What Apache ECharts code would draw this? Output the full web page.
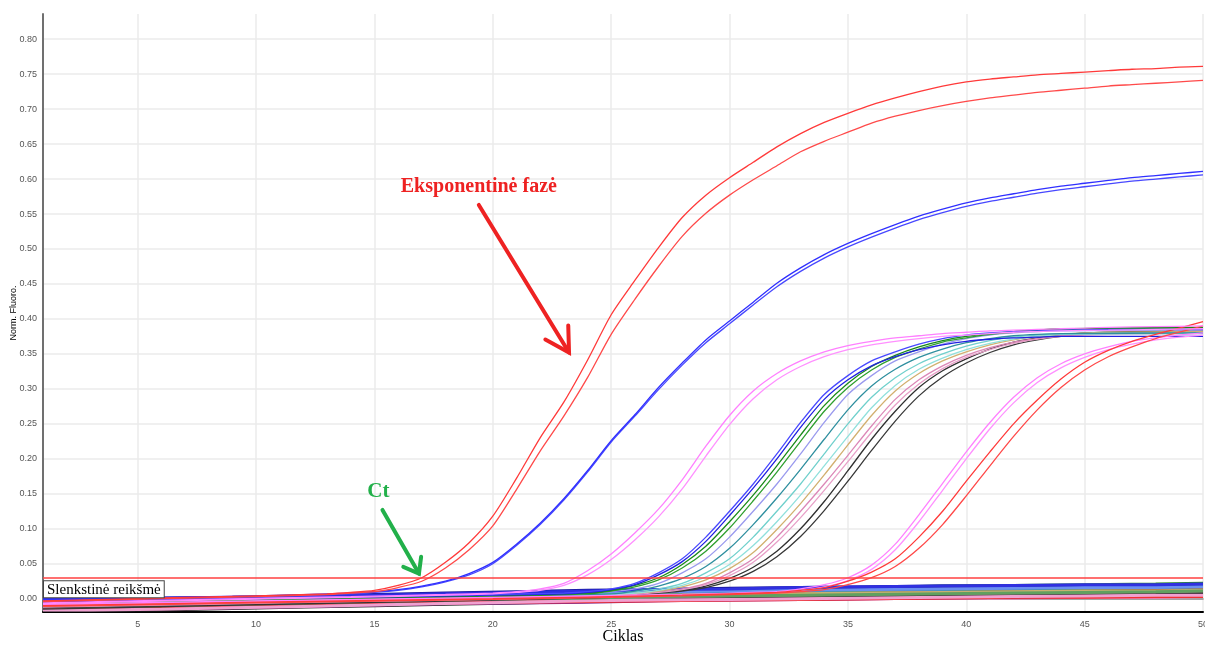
<!DOCTYPE html>
<html><head><meta charset="utf-8">
<script src="https://cdn.jsdelivr.net/npm/echarts@6/dist/echarts.min.js"></script>
<style>html,body{margin:0;padding:0;background:#fff}#c{width:1205px;height:645px}</style>
</head><body><div id="c"></div>
<script>
// ---- axis ticks ----
const xTicks = [5,10,15,20,25,30,35,40,45,50];
const yTicks = [0,0.05,0.10,0.15,0.20,0.25,0.30,0.35,0.40,0.45,0.50,0.55,0.60,0.65,0.70,0.75,0.80];
const threshold = 0.027;

// ---- flat (non-amplified) baseline wells, sampled at baseCycles ----
const baseCycles = [1,3,6,9,12,15,18,21,24,27,30,33,36,39,42,45,48,50];
const b1  = [-0.004,-0.003,-0.002,0.000,0.002,0.004,0.006,0.008,0.010,0.012,0.014,0.016,0.018,0.019,0.020,0.021,0.022,0.022];
const b2  = [-0.008,-0.007,-0.005,-0.003,-0.001,0.001,0.003,0.004,0.006,0.007,0.008,0.009,0.010,0.011,0.012,0.013,0.014,0.014];
const b3  = [-0.006,-0.005,-0.004,-0.002,0.000,0.002,0.003,0.005,0.006,0.008,0.009,0.010,0.011,0.012,0.013,0.013,0.014,0.014];
const b4  = [-0.012,-0.011,-0.010,-0.008,-0.006,-0.005,-0.003,-0.002,0.000,0.001,0.002,0.003,0.004,0.005,0.006,0.006,0.007,0.007];
const b5  = [0.000,0.001,0.002,0.004,0.006,0.008,0.010,0.012,0.013,0.015,0.016,0.017,0.018,0.018,0.019,0.019,0.020,0.020];
const b6  = [-0.014,-0.013,-0.011,-0.009,-0.007,-0.005,-0.004,-0.002,-0.001,0.000,0.001,0.002,0.003,0.004,0.004,0.005,0.005,0.005];
const b7  = [-0.010,-0.011,-0.012,-0.010,-0.008,-0.006,-0.005,-0.004,-0.003,-0.002,-0.001,0.000,0.001,0.001,0.002,0.002,0.003,0.003];
const b8  = [-0.003,-0.004,-0.002,-0.001,0.001,0.003,0.005,0.006,0.008,0.009,0.010,0.011,0.012,0.013,0.014,0.015,0.015,0.015];
const b9  = [-0.009,-0.008,-0.006,-0.004,-0.002,0.000,0.002,0.003,0.005,0.006,0.007,0.008,0.009,0.010,0.011,0.012,0.012,0.012];
const b10 = [-0.005,-0.006,-0.004,-0.002,0.000,0.002,0.004,0.006,0.008,0.010,0.011,0.012,0.013,0.014,0.015,0.016,0.017,0.017];
const b11 = [-0.017,-0.016,-0.014,-0.012,-0.010,-0.008,-0.006,-0.004,-0.002,0.000,0.001,0.002,0.003,0.004,0.005,0.006,0.007,0.007];
const b12 = [-0.015,-0.014,-0.013,-0.011,-0.009,-0.007,-0.006,-0.005,-0.003,-0.002,-0.001,0.000,0.001,0.002,0.003,0.004,0.004,0.004];
const b13 = [-0.002,-0.001,0.000,0.002,0.004,0.005,0.007,0.008,0.010,0.011,0.012,0.013,0.014,0.015,0.016,0.016,0.017,0.017];
const b14 = [-0.013,-0.012,-0.010,-0.009,-0.008,-0.006,-0.005,-0.004,-0.003,-0.002,-0.001,0.000,0.001,0.002,0.002,0.003,0.003,0.003];
const b15 = [-0.007,-0.006,-0.005,-0.003,-0.001,0.001,0.002,0.004,0.005,0.006,0.007,0.008,0.009,0.010,0.011,0.011,0.012,0.012];
const b16 = [-0.001,0.000,0.001,0.003,0.005,0.007,0.009,0.011,0.013,0.014,0.016,0.017,0.018,0.019,0.020,0.020,0.021,0.021];
const b17 = [-0.016,-0.015,-0.013,-0.011,-0.009,-0.007,-0.005,-0.003,-0.002,-0.001,0.000,0.001,0.002,0.003,0.004,0.005,0.005,0.006];
const b18 = [-0.011,-0.010,-0.008,-0.006,-0.004,-0.002,0.000,0.001,0.003,0.004,0.005,0.006,0.007,0.008,0.009,0.010,0.011,0.011];
const baseColors = ['#2e8b2e','#8b8b00','#b8860b','#d0409a','#1a1a9a','#909090','#ff6eb4','#d2691e','#a0522d','#2f8f8f','#202020','#8a2a8a','#6a8ff0','#f03030','#c8b070','#3030e0','#f0a0d0','#60a060'];
const baseWells = [b1,b2,b3,b4,b5,b6,b7,b8,b9,b10,b11,b12,b13,b14,b15,b16,b17,b18];

// ---- amplification curves [cycle, Norm. Fluoro.] ----
const R1 = [[1,-0.003],[6,0.001],[10,0.004],[13,0.007],[14,0.009],[15,0.012],[16,0.019],[17,0.030],[18,0.052],[19,0.080],[20,0.118],[21,0.172],[22,0.230],[23,0.281],[24,0.341],[25,0.406],[26,0.455],[27,0.502],[28,0.545],[29,0.577],[30,0.602],[31,0.624],[32,0.646],[33,0.665],[34,0.681],[35,0.694],[36,0.706],[37,0.716],[38,0.725],[39,0.733],[40,0.739],[41,0.743],[42,0.746],[43,0.749],[44,0.751],[45,0.753],[46,0.755],[47,0.757],[48,0.758],[49,0.760],[50,0.761]];
const R2 = [[1,-0.004],[6,0.000],[10,0.003],[13,0.006],[14,0.008],[15,0.010],[16,0.016],[17,0.025],[18,0.044],[19,0.070],[20,0.104],[21,0.156],[22,0.211],[23,0.261],[24,0.316],[25,0.378],[26,0.428],[27,0.475],[28,0.518],[29,0.551],[30,0.577],[31,0.599],[32,0.619],[33,0.639],[34,0.654],[35,0.667],[36,0.680],[37,0.690],[38,0.698],[39,0.705],[40,0.711],[41,0.716],[42,0.720],[43,0.724],[44,0.727],[45,0.730],[46,0.733],[47,0.735],[48,0.737],[49,0.739],[50,0.741]];
const B1 = [[1,-0.001],[6,0.002],[10,0.004],[14,0.008],[15,0.010],[16,0.013],[17,0.018],[18,0.025],[19,0.036],[20,0.052],[21,0.078],[22,0.108],[23,0.143],[24,0.183],[25,0.226],[26,0.263],[27,0.302],[28,0.337],[29,0.370],[30,0.397],[31,0.424],[32,0.451],[33,0.473],[34,0.492],[35,0.508],[36,0.522],[37,0.535],[38,0.547],[39,0.557],[40,0.566],[41,0.573],[42,0.579],[43,0.585],[44,0.590],[45,0.594],[46,0.598],[47,0.602],[48,0.605],[49,0.608],[50,0.611]];
const B2 = [[1,-0.002],[6,0.001],[10,0.003],[14,0.007],[15,0.009],[16,0.012],[17,0.017],[18,0.024],[19,0.034],[20,0.050],[21,0.076],[22,0.106],[23,0.141],[24,0.181],[25,0.224],[26,0.261],[27,0.299],[28,0.334],[29,0.366],[30,0.393],[31,0.420],[32,0.446],[33,0.468],[34,0.487],[35,0.503],[36,0.517],[37,0.530],[38,0.542],[39,0.552],[40,0.561],[41,0.568],[42,0.574],[43,0.580],[44,0.585],[45,0.589],[46,0.593],[47,0.597],[48,0.600],[49,0.603],[50,0.606]];
const P1 = [[1,-0.006],[8,-0.001],[14,0.003],[18,0.006],[20,0.008],[21,0.010],[22,0.014],[23,0.022],[24,0.040],[25,0.064],[26,0.094],[27,0.128],[28,0.170],[29,0.218],[30,0.262],[31,0.297],[32,0.322],[33,0.340],[34,0.353],[35,0.362],[36,0.368],[37,0.373],[38,0.376],[39,0.379],[40,0.381],[41,0.383],[42,0.384],[43,0.385],[44,0.386],[45,0.387],[46,0.388],[48,0.389],[50,0.390]];
const P2 = [[1,-0.007],[8,-0.002],[14,0.002],[18,0.005],[20,0.007],[21,0.009],[22,0.012],[23,0.019],[24,0.034],[25,0.056],[26,0.084],[27,0.117],[28,0.157],[29,0.204],[30,0.249],[31,0.286],[32,0.313],[33,0.332],[34,0.346],[35,0.356],[36,0.363],[37,0.368],[38,0.372],[39,0.375],[40,0.377],[41,0.379],[42,0.381],[43,0.382],[44,0.383],[46,0.384],[48,0.385],[50,0.386]];
const Bc1 = [[1,-0.003],[8,0.000],[14,0.003],[20,0.006],[23,0.008],[24,0.010],[25,0.014],[26,0.022],[27,0.037],[28,0.057],[29,0.088],[30,0.125],[31,0.164],[32,0.207],[33,0.252],[34,0.292],[35,0.319],[36,0.340],[37,0.353],[38,0.364],[39,0.372],[40,0.377],[41,0.380],[42,0.382],[43,0.383],[44,0.384],[46,0.385],[50,0.385]];
const Bc2 = [[1,-0.005],[8,-0.001],[14,0.002],[20,0.005],[23,0.007],[24,0.009],[25,0.013],[26,0.020],[27,0.034],[28,0.053],[29,0.082],[30,0.119],[31,0.158],[32,0.200],[33,0.245],[34,0.285],[35,0.313],[36,0.333],[37,0.346],[38,0.356],[39,0.363],[40,0.368],[41,0.371],[42,0.373],[43,0.374],[44,0.375],[50,0.375]];
const G1 = [[1,-0.006],[8,-0.002],[14,0.001],[20,0.004],[24,0.008],[25,0.012],[26,0.019],[27,0.030],[28,0.049],[29,0.075],[30,0.110],[31,0.148],[32,0.190],[33,0.234],[34,0.276],[35,0.308],[36,0.332],[37,0.348],[38,0.360],[39,0.369],[40,0.375],[41,0.379],[42,0.382],[43,0.384],[44,0.386],[46,0.387],[50,0.388]];
const G2 = [[1,-0.007],[8,-0.003],[14,0.000],[20,0.003],[24,0.007],[25,0.011],[26,0.017],[27,0.027],[28,0.044],[29,0.068],[30,0.101],[31,0.140],[32,0.181],[33,0.225],[34,0.268],[35,0.302],[36,0.327],[37,0.345],[38,0.357],[39,0.367],[40,0.373],[41,0.378],[42,0.381],[43,0.383],[44,0.385],[46,0.386],[50,0.387]];
const Lv = [[1,-0.004],[8,-0.001],[14,0.002],[20,0.005],[24,0.008],[25,0.010],[26,0.014],[27,0.022],[28,0.037],[29,0.057],[30,0.088],[31,0.125],[32,0.164],[33,0.207],[34,0.252],[35,0.292],[36,0.319],[37,0.340],[38,0.353],[39,0.364],[40,0.372],[41,0.377],[42,0.380],[43,0.382],[44,0.383],[50,0.384]];
const Tl = [[1,-0.008],[8,-0.004],[14,0.000],[20,0.003],[25,0.007],[26,0.011],[27,0.018],[28,0.029],[29,0.046],[30,0.072],[31,0.106],[32,0.144],[33,0.185],[34,0.228],[35,0.270],[36,0.304],[37,0.328],[38,0.345],[39,0.357],[40,0.366],[41,0.372],[42,0.376],[43,0.378],[44,0.379],[50,0.380]];
const Q1 = [[1,-0.006],[8,-0.003],[14,0.001],[20,0.004],[25,0.007],[26,0.010],[27,0.014],[28,0.022],[29,0.037],[30,0.057],[31,0.088],[32,0.125],[33,0.164],[34,0.207],[35,0.250],[36,0.288],[37,0.316],[38,0.336],[39,0.350],[40,0.361],[41,0.369],[42,0.374],[43,0.377],[44,0.379],[50,0.380]];
const Q2 = [[1,-0.009],[8,-0.005],[14,-0.001],[20,0.002],[25,0.006],[26,0.008],[27,0.012],[28,0.019],[29,0.031],[30,0.049],[31,0.076],[32,0.110],[33,0.148],[34,0.190],[35,0.232],[36,0.273],[37,0.305],[38,0.328],[39,0.344],[40,0.356],[41,0.365],[42,0.371],[43,0.375],[44,0.378],[50,0.379]];
const Tn = [[1,-0.010],[8,-0.006],[14,-0.002],[20,0.001],[25,0.005],[26,0.008],[27,0.011],[28,0.017],[29,0.027],[30,0.043],[31,0.066],[32,0.099],[33,0.136],[34,0.177],[35,0.220],[36,0.262],[37,0.297],[38,0.322],[39,0.340],[40,0.353],[41,0.363],[42,0.370],[43,0.375],[44,0.378],[46,0.381],[50,0.382]];
const Ro1 = [[1,-0.011],[8,-0.007],[14,-0.003],[20,0.000],[25,0.004],[26,0.007],[27,0.010],[28,0.014],[29,0.022],[30,0.037],[31,0.057],[32,0.088],[33,0.125],[34,0.164],[35,0.205],[36,0.247],[37,0.285],[38,0.313],[39,0.333],[40,0.348],[41,0.359],[42,0.367],[43,0.372],[44,0.376],[46,0.379],[50,0.380]];
const Ro2 = [[1,-0.012],[8,-0.008],[14,-0.004],[20,-0.001],[25,0.003],[26,0.006],[27,0.009],[28,0.013],[29,0.020],[30,0.033],[31,0.052],[32,0.081],[33,0.116],[34,0.155],[35,0.196],[36,0.238],[37,0.277],[38,0.307],[39,0.329],[40,0.345],[41,0.356],[42,0.365],[43,0.371],[44,0.375],[46,0.378],[50,0.379]];
const Bk1 = [[1,-0.013],[8,-0.009],[14,-0.005],[20,-0.001],[25,0.003],[26,0.006],[27,0.009],[28,0.012],[29,0.018],[30,0.029],[31,0.045],[32,0.068],[33,0.100],[34,0.139],[35,0.183],[36,0.228],[37,0.268],[38,0.302],[39,0.326],[40,0.343],[41,0.357],[42,0.367],[43,0.373],[44,0.377],[45,0.380],[47,0.382],[50,0.383]];
const Bk2 = [[1,-0.015],[8,-0.010],[14,-0.006],[20,-0.002],[25,0.002],[26,0.005],[27,0.008],[28,0.011],[29,0.016],[30,0.025],[31,0.039],[32,0.060],[33,0.089],[34,0.126],[35,0.168],[36,0.212],[37,0.254],[38,0.290],[39,0.317],[40,0.337],[41,0.352],[42,0.363],[43,0.370],[44,0.375],[45,0.378],[47,0.380],[50,0.381]];
const LP1 = [[1,-0.008],[10,-0.003],[20,0.002],[28,0.006],[31,0.009],[32,0.010],[33,0.014],[34,0.020],[35,0.030],[36,0.048],[37,0.078],[38,0.120],[39,0.165],[40,0.210],[41,0.252],[42,0.288],[43,0.316],[44,0.336],[45,0.350],[46,0.360],[47,0.368],[48,0.373],[49,0.377],[50,0.380]];
const LP2 = [[1,-0.009],[10,-0.004],[20,0.001],[28,0.005],[31,0.008],[32,0.009],[33,0.012],[34,0.017],[35,0.026],[36,0.042],[37,0.070],[38,0.110],[39,0.155],[40,0.200],[41,0.243],[42,0.280],[43,0.309],[44,0.330],[45,0.345],[46,0.356],[47,0.364],[48,0.370],[49,0.374],[50,0.377]];
const LR1 = [[1,-0.010],[10,-0.005],[20,0.000],[28,0.005],[32,0.009],[33,0.012],[34,0.016],[35,0.025],[36,0.038],[37,0.057],[38,0.088],[39,0.125],[40,0.168],[41,0.210],[42,0.250],[43,0.284],[44,0.314],[45,0.338],[46,0.355],[47,0.368],[48,0.378],[49,0.387],[50,0.396]];
const LR2 = [[1,-0.011],[10,-0.006],[20,-0.001],[28,0.004],[32,0.008],[33,0.010],[34,0.013],[35,0.020],[36,0.030],[37,0.046],[38,0.072],[39,0.106],[40,0.147],[41,0.190],[42,0.232],[43,0.270],[44,0.302],[45,0.327],[46,0.346],[47,0.360],[48,0.372],[49,0.381],[50,0.390]];

const curves = [
  [Bk2,'#383838'],[Bk1,'#303030'],[Ro2,'#e8a0c8'],[Ro1,'#dc88b8'],[Tn,'#d2b070'],
  [Q2,'#90e0dc'],[Q1,'#70d0cc'],[Tl,'#2f8f9f'],[Lv,'#9a9aee'],[G2,'#30a030'],[G1,'#1a8a1a'],
  [Bc2,'#2020e0'],[Bc1,'#4848ff'],
  [LP2,'#ff90ff'],[LP1,'#ff80ff'],[LR2,'#ff4848'],[LR1,'#ff3a3a'],
  [P2,'#ff90ff'],[P1,'#ff80ff'],[B2,'#4848ff'],[B1,'#3030ff'],[R2,'#ff4a4a'],[R1,'#ff3a3a']
];

const series = [];
baseWells.forEach((w,i)=>{
  series.push({type:'line', data: baseCycles.map((c,j)=>[c,w[j]]), step:'end', showSymbol:false, silent:true,
    lineStyle:{color:baseColors[i], width:3}, z:2});
});
curves.forEach(([d,col])=>{
  series.push({type:'line', data:d, smooth:0.25, showSymbol:false, silent:true,
    lineStyle:{color:col, width:1.3}, z:3});
});
series.push({type:'line', data:[], markLine:{silent:true, symbol:'none', label:{show:false},
  lineStyle:{color:'#ff4040', width:1.5, type:'solid'}, data:[{yAxis:threshold}]}, z:4});

const chart = echarts.init(document.getElementById('c'), null, {renderer:'canvas'});
const gridLine = {show:true, lineStyle:{color:'#ebebeb', width:1.5}};
chart.setOption({
  animation:false,
  backgroundColor:'#fff',
  grid:{left:43, right:2, top:14, bottom:33, containLabel:false, outerBoundsMode:'none'},
  xAxis:[{
    type:'value', min:1, max:50,
    name:'Ciklas', nameLocation:'middle', nameGap:17, nameMoveOverlap:false,
    nameTextStyle:{fontFamily:'Liberation Serif', fontSize:16, color:'#000', verticalAlign:'top'},
    axisLine:{show:true, onZero:false, lineStyle:{color:'#000', width:2}},
    axisTick:{show:false, customValues:xTicks},
    axisLabel:{customValues:xTicks, fontFamily:'Liberation Sans', fontSize:9, color:'#555', margin:8},
    splitLine:gridLine
  },{
    type:'value', min:1, max:50, position:'top',
    axisLine:{show:true, lineStyle:{color:'#8a8a8a', width:1.5}},
    axisTick:{show:false}, axisLabel:{show:false}, splitLine:{show:false}
  }],
  yAxis:{
    type:'value', min:-0.019, max:0.836,
    name:'Norm. Fluoro.', nameLocation:'middle', nameGap:25, nameRotate:90, nameMoveOverlap:false,
    nameTextStyle:{fontFamily:'Liberation Sans', fontSize:9, color:'#000'},
    axisLine:{show:true, lineStyle:{color:'#707070', width:2}},
    axisTick:{show:false, customValues:yTicks},
    axisLabel:{customValues:yTicks, formatter:v=>v.toFixed(2), fontFamily:'Liberation Sans', fontSize:9, color:'#555', margin:6},
    splitLine:gridLine
  },
  series: series
});

// ---- annotations (anchored in data coordinates) ----
const expLabel = [19.41, 0.589];
const expArrow = [[19.41, 0.563],[23.22, 0.352]];
const ctLabel = [15.17, 0.153];
const ctArrow = [[15.34, 0.127],[16.88, 0.036]];
const px = p => chart.convertToPixel({gridIndex:0}, p);

function arrow(from, to, color, w, L, spread){
  const a = px(from), b = px(to);
  const ang = Math.atan2(b[1]-a[1], b[0]-a[0]) + Math.PI;
  const h1 = [b[0]+L*Math.cos(ang-spread), b[1]+L*Math.sin(ang-spread)];
  const h2 = [b[0]+L*Math.cos(ang+spread), b[1]+L*Math.sin(ang+spread)];
  return [
    {type:'line', shape:{x1:a[0],y1:a[1],x2:b[0],y2:b[1]}, style:{stroke:color, lineWidth:w, lineCap:'round'}, z:10},
    {type:'polyline', shape:{points:[h1,b,h2]}, style:{stroke:color, lineWidth:w, fill:null, lineCap:'round', lineJoin:'miter'}, z:10}
  ];
}
const el = px(expLabel), cl = px(ctLabel);
const th = px([1, threshold]);
chart.setOption({graphic:[
  {type:'text', x:el[0], y:el[1], style:{text:'Eksponentinė fazė', font:'bold 20px "Liberation Serif"', fill:'#ee2222', align:'center', verticalAlign:'middle'}, z:10},
  ...arrow(expArrow[0], expArrow[1], '#ee2222', 4, 27, 0.52),
  {type:'text', x:cl[0], y:cl[1], style:{text:'Ct', font:'bold 21px "Liberation Serif"', fill:'#22b04a', align:'center', verticalAlign:'middle'}, z:10},
  ...arrow(ctArrow[0], ctArrow[1], '#22b04a', 4, 17, 0.65),
  {type:'text', x:th[0]+1, y:th[1]+1.5, style:{text:'Slenkstinė reikšmė', font:'15px "Liberation Serif"', fill:'#000',
    backgroundColor:'#fff', borderColor:'#444', borderWidth:1, padding:[1,3,0,3]}, z:10}
]});
</script>
</body></html>
